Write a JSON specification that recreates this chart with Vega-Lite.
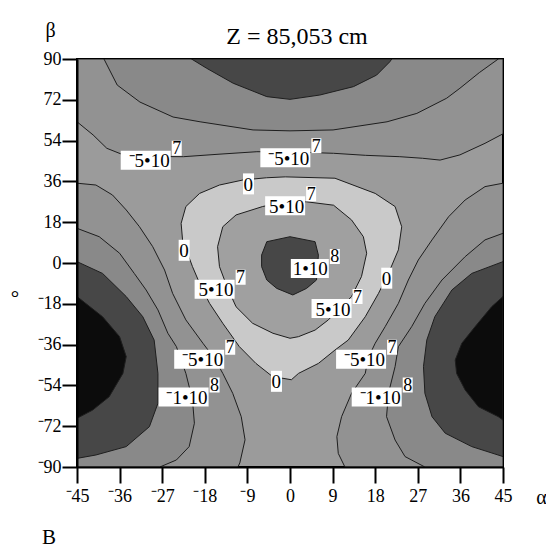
{
  "$schema": "https://vega.github.io/schema/vega-lite/v6.json",
  "autosize": "none",
  "width": 426,
  "height": 408,
  "padding": {"left": 77, "top": 59, "right": 43, "bottom": 82},
  "background": "white",
  "config": {
    "view": {"fill": "#9b9b9b", "stroke": "black", "strokeWidth": 2},
    "font": "Liberation Serif"
  },
  "title": {"text": "Z = 85,053 cm", "font": "Liberation Serif", "fontSize": 24, "fontWeight": "normal", "color": "black", "anchor": "middle", "frame": "group", "baseline": "alphabetic", "offset": -48, "dx": 7},
  "datasets": {
    "L1": [
      {"p":"top1","i":0,"a":-45,"b":90},{"p":"top1","i":1,"a":-45,"b":62.3},{"p":"top1","i":2,"a":-41.6,"b":56.5},{"p":"top1","i":3,"a":-38.7,"b":50.6},{"p":"top1","i":4,"a":-35.2,"b":47.7},{"p":"top1","i":5,"a":-29,"b":47},{"p":"top1","i":6,"a":-22.5,"b":46.9},{"p":"top1","i":7,"a":-15,"b":48},{"p":"top1","i":8,"a":-7,"b":49.1},{"p":"top1","i":9,"a":0,"b":49},{"p":"top1","i":10,"a":9.2,"b":48.4},{"p":"top1","i":11,"a":16,"b":47.5},{"p":"top1","i":12,"a":23.2,"b":46.9},{"p":"top1","i":13,"a":28,"b":46.2},{"p":"top1","i":14,"a":31.7,"b":45.4},{"p":"top1","i":15,"a":35.9,"b":47.7},{"p":"top1","i":16,"a":41.2,"b":52.8},{"p":"top1","i":17,"a":45,"b":57},{"p":"top1","i":18,"a":45,"b":90},{"p":"top1","i":19,"a":-45,"b":90},
      {"p":"left1","i":0,"a":-45,"b":35.2},{"p":"left1","i":1,"a":-41,"b":34.4},{"p":"left1","i":2,"a":-37.5,"b":30},{"p":"left1","i":3,"a":-34.6,"b":23.4},{"p":"left1","i":4,"a":-31.8,"b":16},{"p":"left1","i":5,"a":-29,"b":7.2},{"p":"left1","i":6,"a":-26.5,"b":-3.1},{"p":"left1","i":7,"a":-24.8,"b":-13.4},{"p":"left1","i":8,"a":-22,"b":-25.1},{"p":"left1","i":9,"a":-18.4,"b":-35.4},{"p":"left1","i":10,"a":-16,"b":-42},{"p":"left1","i":11,"a":-14.2,"b":-48.7},{"p":"left1","i":12,"a":-12.1,"b":-57.5},{"p":"left1","i":13,"a":-10.3,"b":-67.8},{"p":"left1","i":14,"a":-9.5,"b":-78},{"p":"left1","i":15,"a":-10.6,"b":-88.2},{"p":"left1","i":16,"a":-11,"b":-90},{"p":"left1","i":17,"a":-45,"b":-90},{"p":"left1","i":18,"a":-45,"b":35.2},
      {"p":"right1","i":0,"a":45,"b":35.2},{"p":"right1","i":1,"a":41.2,"b":33.7},{"p":"right1","i":2,"a":37,"b":27.8},{"p":"right1","i":3,"a":33.5,"b":20.4},{"p":"right1","i":4,"a":30,"b":10.2},{"p":"right1","i":5,"a":27.1,"b":1.3},{"p":"right1","i":6,"a":25,"b":-7.5},{"p":"right1","i":7,"a":22.9,"b":-17.8},{"p":"right1","i":8,"a":20.1,"b":-28.1},{"p":"right1","i":9,"a":18,"b":-35.4},{"p":"right1","i":10,"a":16.5,"b":-42},{"p":"right1","i":11,"a":15.9,"b":-48.7},{"p":"right1","i":12,"a":13,"b":-57.5},{"p":"right1","i":13,"a":10.9,"b":-67.8},{"p":"right1","i":14,"a":9.9,"b":-76.6},{"p":"right1","i":15,"a":10.2,"b":-84},{"p":"right1","i":16,"a":11.6,"b":-90},{"p":"right1","i":17,"a":45,"b":-90},{"p":"right1","i":18,"a":45,"b":35.2}
    ],
    "L2": [
      {"p":"top2","i":0,"a":-39.3,"b":90},{"p":"top2","i":1,"a":-36.5,"b":78.5},{"p":"top2","i":2,"a":-31.7,"b":71},{"p":"top2","i":3,"a":-24.7,"b":64.4},{"p":"top2","i":4,"a":-19,"b":62.3},{"p":"top2","i":5,"a":-7.8,"b":58.7},{"p":"top2","i":6,"a":0,"b":58.3},{"p":"top2","i":7,"a":9.1,"b":58.7},{"p":"top2","i":8,"a":20.5,"b":62.3},{"p":"top2","i":9,"a":26.8,"b":66},{"p":"top2","i":10,"a":33.1,"b":72.7},{"p":"top2","i":11,"a":35.9,"b":77.1},{"p":"top2","i":12,"a":40,"b":84},{"p":"top2","i":13,"a":44,"b":90},{"p":"top2","i":14,"a":-39.3,"b":90},
      {"p":"left2","i":0,"a":-45,"b":15.3},{"p":"left2","i":1,"a":-40.3,"b":11.6},{"p":"left2","i":2,"a":-36,"b":4.3},{"p":"left2","i":3,"a":-32.9,"b":-4.6},{"p":"left2","i":4,"a":-30.4,"b":-11.9},{"p":"left2","i":5,"a":-27.9,"b":-20.7},{"p":"left2","i":6,"a":-25.8,"b":-31},{"p":"left2","i":7,"a":-24,"b":-36.9},{"p":"left2","i":8,"a":-22,"b":-48.7},{"p":"left2","i":9,"a":-20.6,"b":-60.4},{"p":"left2","i":10,"a":-20.2,"b":-70.7},{"p":"left2","i":11,"a":-21.3,"b":-81},{"p":"left2","i":12,"a":-24,"b":-86.9},{"p":"left2","i":13,"a":-27.5,"b":-90},{"p":"left2","i":14,"a":-45,"b":-90},{"p":"left2","i":15,"a":-45,"b":15.3},
      {"p":"right2","i":0,"a":45,"b":13.1},{"p":"right2","i":1,"a":41.2,"b":10.2},{"p":"right2","i":2,"a":37,"b":2.8},{"p":"right2","i":3,"a":32.1,"b":-7.5},{"p":"right2","i":4,"a":28.5,"b":-17.8},{"p":"right2","i":5,"a":25.7,"b":-28.1},{"p":"right2","i":6,"a":22.9,"b":-36.9},{"p":"right2","i":7,"a":22.2,"b":-45.7},{"p":"right2","i":8,"a":20.8,"b":-57.5},{"p":"right2","i":9,"a":20.4,"b":-67.8},{"p":"right2","i":10,"a":22.2,"b":-78.1},{"p":"right2","i":11,"a":24.3,"b":-85.4},{"p":"right2","i":12,"a":28.5,"b":-90},{"p":"right2","i":13,"a":45,"b":-90},{"p":"right2","i":14,"a":45,"b":13.1}
    ],
    "L3": [
      {"p":"cap","i":0,"a":-20.8,"b":90},{"p":"cap","i":1,"a":-17.6,"b":85.9},{"p":"cap","i":2,"a":-12,"b":79.3},{"p":"cap","i":3,"a":-4.9,"b":73.4},{"p":"cap","i":4,"a":0,"b":72.2},{"p":"cap","i":5,"a":6.3,"b":74.1},{"p":"cap","i":6,"a":13.4,"b":77.8},{"p":"cap","i":7,"a":18.3,"b":82.9},{"p":"cap","i":8,"a":21.1,"b":88.8},{"p":"cap","i":9,"a":21.5,"b":90},{"p":"cap","i":10,"a":-20.8,"b":90},
      {"p":"left3","i":0,"a":-45,"b":0.6},{"p":"left3","i":1,"a":-39.6,"b":-4.6},{"p":"left3","i":2,"a":-34.6,"b":-14.8},{"p":"left3","i":3,"a":-31.1,"b":-23.7},{"p":"left3","i":4,"a":-28.7,"b":-34},{"p":"left3","i":5,"a":-27.9,"b":-48.7},{"p":"left3","i":6,"a":-27.9,"b":-61.9},{"p":"left3","i":7,"a":-29.7,"b":-72.2},{"p":"left3","i":8,"a":-34.6,"b":-81},{"p":"left3","i":9,"a":-41,"b":-84.7},{"p":"left3","i":10,"a":-45,"b":-86.2},{"p":"left3","i":11,"a":-45,"b":0.6},
      {"p":"right3","i":0,"a":45,"b":0.6},{"p":"right3","i":1,"a":38.4,"b":-4.6},{"p":"right3","i":2,"a":34.2,"b":-11.9},{"p":"right3","i":3,"a":30.6,"b":-23.7},{"p":"right3","i":4,"a":28.9,"b":-34},{"p":"right3","i":5,"a":28.2,"b":-45.7},{"p":"right3","i":6,"a":28.5,"b":-57.5},{"p":"right3","i":7,"a":30,"b":-67.8},{"p":"right3","i":8,"a":32.8,"b":-75.1},{"p":"right3","i":9,"a":38.4,"b":-81},{"p":"right3","i":10,"a":45,"b":-85.4},{"p":"right3","i":11,"a":45,"b":0.6}
    ],
    "L4": [
      {"p":"left4","i":0,"a":-45,"b":-14.8},{"p":"left4","i":1,"a":-39.6,"b":-23.7},{"p":"left4","i":2,"a":-36,"b":-32.5},{"p":"left4","i":3,"a":-34.6,"b":-41.3},{"p":"left4","i":4,"a":-35.3,"b":-48.7},{"p":"left4","i":5,"a":-38.2,"b":-59},{"p":"left4","i":6,"a":-41.7,"b":-64.9},{"p":"left4","i":7,"a":-45,"b":-68.5},{"p":"left4","i":8,"a":-45,"b":-14.8},
      {"p":"right4","i":0,"a":45,"b":-14.8},{"p":"right4","i":1,"a":42.6,"b":-19.3},{"p":"right4","i":2,"a":39.1,"b":-28.1},{"p":"right4","i":3,"a":36.3,"b":-35.4},{"p":"right4","i":4,"a":34.9,"b":-42.8},{"p":"right4","i":5,"a":35.2,"b":-48.7},{"p":"right4","i":6,"a":37,"b":-56},{"p":"right4","i":7,"a":39.8,"b":-63.4},{"p":"right4","i":8,"a":44,"b":-67.8},{"p":"right4","i":9,"a":45,"b":-69.3},{"p":"right4","i":10,"a":45,"b":-14.8}
    ],
    "H1": [
      {"p":"h1","i":0,"a":-5,"b":37.6},{"p":"h1","i":1,"a":-1,"b":38},{"p":"h1","i":2,"a":9.5,"b":37.4},{"p":"h1","i":3,"a":18,"b":30.7},{"p":"h1","i":4,"a":22.2,"b":24.9},{"p":"h1","i":5,"a":23.6,"b":16},{"p":"h1","i":6,"a":22.9,"b":5.8},{"p":"h1","i":7,"a":20.8,"b":-4.6},{"p":"h1","i":8,"a":18.7,"b":-13.4},{"p":"h1","i":9,"a":15.9,"b":-23.7},{"p":"h1","i":10,"a":12.3,"b":-34},{"p":"h1","i":11,"a":9.5,"b":-38.4},{"p":"h1","i":12,"a":6,"b":-44.3},{"p":"h1","i":13,"a":1.8,"b":-48.7},{"p":"h1","i":14,"a":0.3,"b":-51.5},{"p":"h1","i":15,"a":-3.7,"b":-50.1},{"p":"h1","i":16,"a":-7.2,"b":-44.3},{"p":"h1","i":17,"a":-10.7,"b":-36.9},{"p":"h1","i":18,"a":-14.2,"b":-26.6},{"p":"h1","i":19,"a":-17,"b":-17.8},{"p":"h1","i":20,"a":-18.8,"b":-10.4},{"p":"h1","i":21,"a":-20.6,"b":-1.6},{"p":"h1","i":22,"a":-22.7,"b":10.2},{"p":"h1","i":23,"a":-23,"b":17.5},{"p":"h1","i":24,"a":-22,"b":24.9},{"p":"h1","i":25,"a":-19.1,"b":30.7},{"p":"h1","i":26,"a":-14.9,"b":34.4},{"p":"h1","i":27,"a":-10,"b":36.6},{"p":"h1","i":28,"a":-5,"b":37.6}
    ],
    "H2": [
      {"p":"h2","i":0,"a":-5.8,"b":24.9},{"p":"h2","i":1,"a":-2,"b":26.6},{"p":"h2","i":2,"a":3.5,"b":27},{"p":"h2","i":3,"a":9.2,"b":25.5},{"p":"h2","i":4,"a":13,"b":19},{"p":"h2","i":5,"a":15.5,"b":11.6},{"p":"h2","i":6,"a":16.2,"b":4.3},{"p":"h2","i":7,"a":15.1,"b":-6},{"p":"h2","i":8,"a":13,"b":-14.8},{"p":"h2","i":9,"a":8.1,"b":-25.1},{"p":"h2","i":10,"a":5.3,"b":-29.6},{"p":"h2","i":11,"a":1.8,"b":-32.5},{"p":"h2","i":12,"a":0,"b":-33.2},{"p":"h2","i":13,"a":-3.6,"b":-31},{"p":"h2","i":14,"a":-7.9,"b":-26.6},{"p":"h2","i":15,"a":-11.4,"b":-19.3},{"p":"h2","i":16,"a":-13.3,"b":-10.5},{"p":"h2","i":17,"a":-14.9,"b":-1.6},{"p":"h2","i":18,"a":-15.3,"b":7.2},{"p":"h2","i":19,"a":-14.2,"b":16},{"p":"h2","i":20,"a":-11.4,"b":21.2},{"p":"h2","i":21,"a":-5.8,"b":24.9}
    ],
    "H3": [
      {"p":"h3","i":0,"a":-6,"b":3.5},{"p":"h3","i":1,"a":-4.9,"b":9.4},{"p":"h3","i":2,"a":0,"b":11.6},{"p":"h3","i":3,"a":5.3,"b":9.4},{"p":"h3","i":4,"a":6,"b":3.5},{"p":"h3","i":5,"a":5.6,"b":-7.5},{"p":"h3","i":6,"a":3.5,"b":-11.2},{"p":"h3","i":7,"a":0.6,"b":-14.1},{"p":"h3","i":8,"a":-2.8,"b":-11.2},{"p":"h3","i":9,"a":-4.9,"b":-7.5},{"p":"h3","i":10,"a":-6,"b":-1.6},{"p":"h3","i":11,"a":-6,"b":3.5}
    ],
    "gridA": [{"a":-36},{"a":-27},{"a":-18},{"a":-9},{"a":0},{"a":9},{"a":18},{"a":27},{"a":36}],
    "gridB": [{"b":-72},{"b":-54},{"b":-36},{"b":-18},{"b":0},{"b":18},{"b":36},{"b":54},{"b":72}],
    "labels": [
      {"m":"⁻5•10","s":"7","a":-25.2,"b":45.3},
      {"m":"⁻5•10","s":"7","a":4.3,"b":46.4},
      {"m":"0","s":"","a":-7.6,"b":34.9},
      {"m":"5•10","s":"7","a":3.2,"b":25.3},
      {"m":"0","s":"","a":-21.2,"b":5.6},
      {"m":"1•10","s":"8","a":8.2,"b":-2.4},
      {"m":"5•10","s":"7","a":-11.7,"b":-11.6},
      {"m":"0","s":"","a":21.6,"b":-6.7},
      {"m":"5•10","s":"7","a":13,"b":-20.1},
      {"m":"⁻5•10","s":"7","a":-13.9,"b":-42.5},
      {"m":"⁻5•10","s":"7","a":20.3,"b":-42.5},
      {"m":"0","s":"","a":-1.7,"b":-52.2},
      {"m":"⁻1•10","s":"8","a":-17.2,"b":-59.1},
      {"m":"⁻1•10","s":"8","a":23.6,"b":-59.1}
    ],
    "notes": [
      {"t":"B","a":-50.9,"b":-121.3},
      {"t":"°","a":-58.1,"b":-16}
    ]
  },
  "encoding": {
    "x": {"field": "a", "type": "quantitative", "scale": {"domain": [-45, 45], "nice": false, "zero": false},
      "axis": {"values": [-45,-36,-27,-18,-9,0,9,18,27,36,45], "grid": false, "zindex": 1, "domainColor": "black", "domainWidth": 2, "tickColor": "black", "tickWidth": 2, "tickSize": 16, "labelFont": "Liberation Serif", "labelFontSize": 18, "labelColor": "black", "labelPadding": 4, "labelFlush": false, "labelOverlap": false,
        "labelExpr": "datum.value < 0 ? '⁻' + abs(datum.value) : '' + datum.value",
        "title": "α", "titleFont": "Liberation Serif", "titleFontSize": 20, "titleFontWeight": "normal", "titleColor": "black", "titleX": 464, "titleY": 30, "titleAlign": "center", "titleBaseline": "middle", "titleAnchor": null}},
    "y": {"field": "b", "type": "quantitative", "scale": {"domain": [-90, 90], "nice": false, "zero": false},
      "axis": {"values": [-90,-72,-54,-36,-18,0,18,36,54,72,90], "grid": false, "zindex": 1, "domainColor": "black", "domainWidth": 2, "tickColor": "black", "tickWidth": 2, "tickSize": 15, "labelFont": "Liberation Serif", "labelFontSize": 18, "labelColor": "black", "labelPadding": 1, "labelFlush": false, "labelOverlap": false,
        "labelExpr": "datum.value < 0 ? '⁻' + abs(datum.value) : '' + datum.value",
        "title": "β", "titleFont": "Liberation Serif", "titleFontSize": 20, "titleFontWeight": "normal", "titleColor": "black", "titleAngle": 0, "titleX": -27, "titleY": -29, "titleAlign": "center", "titleBaseline": "middle", "titleAnchor": null}}
  },
  "layer": [
    {"data": {"name": "L1"}, "mark": {"type": "line", "filled": true, "fill": "#929292", "stroke": "#1e1e1e", "strokeWidth": 1, "clip": true}, "encoding": {"detail": {"field": "p"}, "order": {"field": "i", "type": "quantitative"}}},
    {"data": {"name": "L2"}, "mark": {"type": "line", "filled": true, "fill": "#898989", "stroke": "#1e1e1e", "strokeWidth": 1, "clip": true}, "encoding": {"detail": {"field": "p"}, "order": {"field": "i", "type": "quantitative"}}},
    {"data": {"name": "L3"}, "mark": {"type": "line", "filled": true, "fill": "#474747", "stroke": "#1e1e1e", "strokeWidth": 1, "clip": true}, "encoding": {"detail": {"field": "p"}, "order": {"field": "i", "type": "quantitative"}}},
    {"data": {"name": "L4"}, "mark": {"type": "line", "filled": true, "fill": "#0c0c0c", "stroke": "#1e1e1e", "strokeWidth": 1, "clip": true}, "encoding": {"detail": {"field": "p"}, "order": {"field": "i", "type": "quantitative"}}},
    {"data": {"name": "H1"}, "mark": {"type": "line", "filled": true, "fill": "#c9c9c9", "stroke": "#1e1e1e", "strokeWidth": 1, "clip": true}, "encoding": {"detail": {"field": "p"}, "order": {"field": "i", "type": "quantitative"}}},
    {"data": {"name": "H2"}, "mark": {"type": "line", "filled": true, "fill": "#a0a0a0", "stroke": "#1e1e1e", "strokeWidth": 1, "clip": true}, "encoding": {"detail": {"field": "p"}, "order": {"field": "i", "type": "quantitative"}}},
    {"data": {"name": "H3"}, "mark": {"type": "line", "filled": true, "fill": "#474747", "stroke": "#1e1e1e", "strokeWidth": 1, "clip": true}, "encoding": {"detail": {"field": "p"}, "order": {"field": "i", "type": "quantitative"}}},
    {"data": {"name": "gridA"}, "mark": {"type": "rule", "color": "white", "opacity": 0.32, "strokeWidth": 1}, "encoding": {"x": {"field": "a", "type": "quantitative"}}},
    {"data": {"name": "gridB"}, "mark": {"type": "rule", "color": "white", "opacity": 0.32, "strokeWidth": 1}, "encoding": {"y": {"field": "b", "type": "quantitative"}}},
    {"data": {"name": "labels"}, "mark": {"type": "point", "filled": true, "color": "white", "opacity": 1, "strokeWidth": 0, "size": 400},
      "encoding": {"shape": {"field": "m", "type": "nominal", "legend": null, "scale": {"domain": ["⁻5•10", "⁻1•10", "5•10", "1•10", "0"], "range": ["M-5,-0.95H0V0.95H-5Z M0.1,-1.95H1.1V-0.45H0.1Z", "M-5,-0.95H0V0.95H-5Z M0.1,-1.95H1.1V-0.45H0.1Z", "M-4,-0.95H0V0.95H-4Z M0.1,-1.95H1.1V-0.45H0.1Z", "M-3.8,-0.95H0V0.95H-3.8Z M0.1,-1.95H1.1V-0.45H0.1Z", "M-1.1,-1.05H0V1.05H-1.1Z"]}}}},
    {"data": {"name": "labels"}, "mark": {"type": "text", "font": "Liberation Serif", "fontSize": 19, "color": "black", "align": "right", "baseline": "middle", "dx": -1, "dy": 1}, "encoding": {"text": {"field": "m"}}},
    {"data": {"name": "labels"}, "mark": {"type": "text", "font": "Liberation Serif", "fontSize": 18, "color": "black", "align": "left", "baseline": "middle", "dx": 1.5, "dy": -11}, "encoding": {"text": {"field": "s"}}},
    {"data": {"name": "notes"}, "mark": {"type": "text", "font": "Liberation Serif", "fontSize": 21, "color": "black", "align": "center", "baseline": "middle", "clip": false}, "encoding": {"text": {"field": "t"}}}
  ]
}
